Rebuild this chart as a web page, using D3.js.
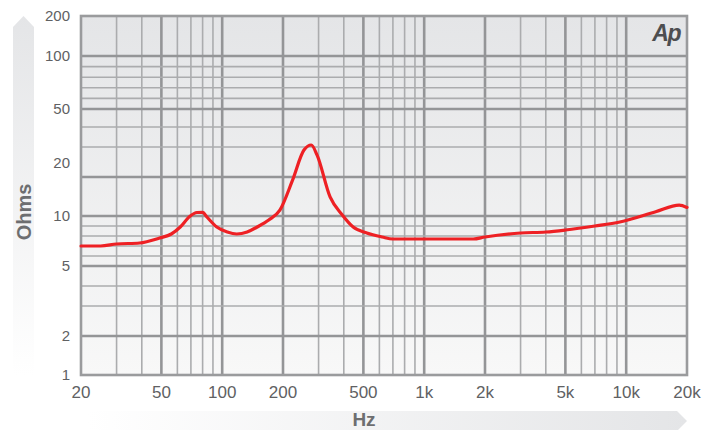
<!DOCTYPE html>
<html>
<head>
<meta charset="utf-8">
<script src="https://cdn.jsdelivr.net/npm/d3@7"></script>
<style>
  body { margin: 0; background: #fff; }
  svg { display: block; }
</style>
</head>
<body>
<div id="chart"></div>
<script>
// impedance curve (Hz, Ohms)
var freqs = [20, 25, 30, 39, 49, 56, 62, 69, 75, 80, 84, 94, 106, 118, 133, 149, 170, 193, 223, 254, 276, 295, 342, 394, 445, 520, 620, 700, 1000, 1750, 2000, 3000, 4000, 5000, 7000, 9300, 14000, 18300, 20000];
var ohms  = [7.0, 7.0, 7.2, 7.3, 7.8, 8.2, 8.9, 9.95, 10.9, 10.95, 9.9, 8.9, 8.4, 8.2, 8.4, 8.9, 9.6, 11.5, 19.2, 29, 31, 27.3, 14.9, 10.2, 8.9, 8.3, 7.9, 7.7, 7.7, 7.7, 7.9, 8.3, 8.4, 8.6, 9.0, 9.4, 11.1, 12.8, 12.2];

// tick labels
var xTicks = [20, 50, 100, 200, 500, 1000, 2000, 5000, 10000, 20000];
var xTickText = ["20", "50", "100", "200", "500", "1k", "2k", "5k", "10k", "20k"];
var yTicks = [1, 2, 5, 10, 20, 50, 100, 200];
// grid values
var xGrid = [20, 30, 40, 50, 60, 70, 80, 90, 100, 200, 300, 400, 500, 600, 700, 800, 900, 1000,
             2000, 3000, 4000, 5000, 6000, 7000, 8000, 9000, 10000, 20000];
var xMajor = [50, 100, 200, 500, 1000, 2000, 5000, 10000];
var yGrid = [1, 2, 3, 4, 5, 6, 7, 8, 9, 10, 20, 30, 40, 50, 60, 70, 80, 90, 100, 200];
var yMajor = [2, 5, 10, 20, 50, 100];

var svgWidth = 715;
var svgHeight = 430;
var margin = { top: 16, right: 28, bottom: 55, left: 81 };
var width = svgWidth - margin.left - margin.right;
var height = svgHeight - margin.top - margin.bottom;

var svg = d3.select("#chart").append("svg").attr("width", svgWidth).attr("height", svgHeight);

var defs = svg.append("defs");
var bg = defs.append("linearGradient").attr("id", "bg").attr("x1", 0).attr("y1", 0).attr("x2", 0).attr("y2", 1);
bg.append("stop").attr("offset", "0%").attr("stop-color", "#e4e5e7");
bg.append("stop").attr("offset", "100%").attr("stop-color", "#f8f8f8");
var vArrow = defs.append("linearGradient").attr("id", "varrow").attr("x1", 0).attr("y1", 0).attr("x2", 0).attr("y2", 1);
vArrow.append("stop").attr("offset", "0%").attr("stop-color", "#e4e5e7");
vArrow.append("stop").attr("offset", "100%").attr("stop-color", "#ffffff");
var hArrow = defs.append("linearGradient").attr("id", "harrow").attr("x1", 0).attr("y1", 0).attr("x2", 1).attr("y2", 0);
hArrow.append("stop").attr("offset", "0%").attr("stop-color", "#ffffff");
hArrow.append("stop").attr("offset", "100%").attr("stop-color", "#e4e5e7");

// axis arrows behind the titles
svg.append("path").attr("d", "M13,27 L23.5,16 L34,27 L34,375 L13,375 Z").attr("fill", "url(#varrow)");
svg.append("path").attr("d", "M88,411 L677,411 L687,421 L677,431 L88,431 Z").attr("fill", "url(#harrow)");

var chartGroup = svg.append("g").attr("transform", `translate(${margin.left}, ${margin.top})`);

var x = d3.scaleLog().domain([20, 20000]).range([0, width]);
// the reference's ohm axis is piecewise, not a true log
var y = d3.scaleLinear()
  .domain([1, 2, 3, 4, 5, 10, 20, 30, 40, 50, 100, 200])
  .range([height, height - 39, height - 69, height - 89, height - 109, height - 159, height - 198, height - 228, height - 248, height - 266, height - 319, 0]);

chartGroup.append("rect").attr("width", width).attr("height", height).attr("fill", "url(#bg)");

// grid
chartGroup.selectAll(".vgrid").data(xGrid).enter().append("line")
  .attr("x1", d => x(d)).attr("x2", d => x(d)).attr("y1", 0).attr("y2", height)
  .attr("stroke", d => xMajor.includes(d) ? "#949597" : "#abacae")
  .attr("stroke-width", d => xMajor.includes(d) ? 2.6 : 1.6);
chartGroup.selectAll(".hgrid").data(yGrid).enter().append("line")
  .attr("y1", d => y(d)).attr("y2", d => y(d)).attr("x1", 0).attr("x2", width)
  .attr("stroke", d => yMajor.includes(d) ? "#949597" : "#abacae")
  .attr("stroke-width", d => yMajor.includes(d) ? 2.6 : 1.6);

chartGroup.append("rect").attr("width", width).attr("height", height)
  .attr("fill", "none").attr("stroke", "#9a9b9d").attr("stroke-width", 2.6);

// curve
var line = d3.line().x(d => x(d[0])).y(d => y(d[1])).curve(d3.curveMonotoneX);
chartGroup.append("path").datum(d3.zip(freqs, ohms)).attr("d", line)
  .attr("fill", "none").attr("stroke", "#ee2024").attr("stroke-width", 3.2)
  .attr("stroke-linejoin", "round").attr("stroke-linecap", "round");

// tick labels
chartGroup.selectAll(".xlab").data(xTicks).enter().append("text")
  .attr("x", d => x(d)).attr("y", height + 23)
  .attr("text-anchor", "middle")
  .style("font-family", "'Liberation Sans Narrow', 'Liberation Sans', Arial, sans-serif")
  .style("font-size", "17px").attr("fill", "#606163")
  .text((d, i) => xTickText[i]);

chartGroup.selectAll(".ylab").data(yTicks).enter().append("text")
  .attr("x", -11)
  // the "20" label sits above its grid line in the reference
  .attr("y", d => d === 20 ? y(d) - 14 : y(d))
  .attr("dy", "0.36em").attr("text-anchor", "end")
  .style("font-family", "'Liberation Sans', Arial, sans-serif")
  .style("font-size", "15px").attr("fill", "#606163")
  .text(d => d);

// logo
chartGroup.append("text").attr("x", width - 7).attr("y", 25).attr("text-anchor", "end")
  .style("font-family", "'Liberation Sans', Arial, sans-serif").style("font-size", "23px")
  .style("font-weight", "bold").style("font-style", "italic").attr("fill", "#4d4e50")
  .attr("letter-spacing", "-1.5px").text("Ap");

// axis titles
svg.append("text").attr("transform", "translate(31, 212) rotate(-90)").attr("text-anchor", "middle")
  .style("font-family", "'Liberation Sans', Arial, sans-serif").style("font-size", "20px")
  .style("font-weight", "bold").attr("fill", "#6d6e70").text("Ohms");
svg.append("text").attr("x", 364).attr("y", 426).attr("text-anchor", "middle")
  .style("font-family", "'Liberation Sans Narrow', 'Liberation Sans', Arial, sans-serif").style("font-size", "19px")
  .style("font-weight", "bold").attr("fill", "#6d6e70").text("Hz");
</script>
</body>
</html>
